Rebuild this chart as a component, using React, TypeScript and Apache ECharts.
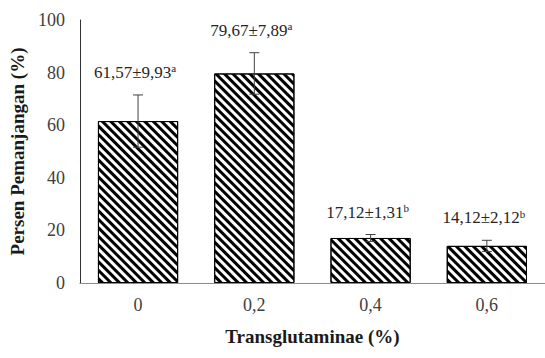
import React, { useEffect, useRef } from "react";
import * as echarts from "echarts";

const categories = ["0", "0,2", "0,4", "0,6"];
const means = [61.57, 79.67, 17.12, 14.12];
const errors = [9.93, 7.89, 1.31, 2.12];
const letters = ["a", "a", "b", "b"];
const yTicks = { min: 0, max: 100, interval: 20 };

const fmt = (v: number) => v.toFixed(2).replace(".", ",");

const FONT = "'Liberation Serif', 'Times New Roman', serif";

export default function App() {
  const ref = useRef<HTMLDivElement>(null);
  useEffect(() => {
    if (!ref.current) return;
    const chart = echarts.init(ref.current, null, { renderer: "svg" });
    const errData = means.map((m, i) => [i, m, errors[i], letters[i]]);
    chart.setOption({
      animation: false,
      backgroundColor: "#fff",
      textStyle: { fontFamily: FONT },
      grid: { left: 78, right: -5, top: 20, bottom: 75, containLabel: false },
      xAxis: {
        type: "category",
        data: categories,
        axisLine: { show: true, lineStyle: { color: "#8c8c8c", width: 1 } },
        axisTick: { show: false },
        axisLabel: { fontFamily: FONT, fontSize: 18, color: "#404040", margin: 13 },
        name: "Transglutaminae (%)",
        nameLocation: "middle",
        nameGap: 44,
        nameTextStyle: { fontFamily: FONT, fontSize: 19, fontWeight: "bold", color: "#1a1a1a" },
      },
      yAxis: {
        type: "value",
        min: yTicks.min,
        max: yTicks.max,
        interval: yTicks.interval,
        axisLine: { show: true, lineStyle: { color: "#333333", width: 1 } },
        axisTick: { show: false },
        splitLine: { show: false },
        axisLabel: { fontFamily: FONT, fontSize: 18, color: "#404040", margin: 15 },
        name: "Persen Pemanjangan (%)",
        nameLocation: "middle",
        nameGap: 48,
        nameTextStyle: { fontFamily: FONT, fontSize: 19, fontWeight: "bold", color: "#1a1a1a" },
      },
      series: [
        {
          type: "bar",
          data: means,
          barCategoryGap: "31%",
          itemStyle: {
            color: "#ffffff",
            borderColor: "#000000",
            borderWidth: 1,
            decal: {
              symbol: "rect",
              symbolSize: 1,
              color: "#000000",
              backgroundColor: "#ffffff",
              dashArrayX: [1, 0],
              dashArrayY: [3, 3],
              rotation: Math.PI / 4,
            },
          },
          z: 2,
        },
        {
          type: "custom",
          data: errData,
          z: 5,
          renderItem: (params: any, api: any) => {
            const i = api.value(0);
            const m = api.value(1);
            const e = api.value(2);
            const letter = errData[params.dataIndex][3] as string;
            const top = api.coord([i, m + e]);
            const bot = api.coord([i, m - e]);
            const x = top[0];
            const cap = 5;
            const stroke = { stroke: "#404040", lineWidth: 1 };
            return {
              type: "group",
              children: [
                { type: "line", shape: { x1: x, y1: top[1], x2: x, y2: bot[1] }, style: stroke },
                { type: "line", shape: { x1: x - cap, y1: top[1], x2: x + cap, y2: top[1] }, style: stroke },
                { type: "line", shape: { x1: x - cap, y1: bot[1], x2: x + cap, y2: bot[1] }, style: stroke },
                {
                  type: "text",
                  x: x - 3,
                  y: top[1] - 13,
                  style: {
                    text: `{m|${fmt(m)}±${fmt(e)}}{s|${letter}}`,
                    align: "center",
                    verticalAlign: "bottom",
                    fontFamily: FONT,
                    rich: {
                      m: { fontFamily: FONT, fontSize: 17, fill: "#262626", color: "#262626" },
                      s: {
                        fontFamily: FONT,
                        fontSize: 11,
                        fill: "#262626",
                        color: "#262626",
                        verticalAlign: "top",
                        padding: [0, 0, 8, 0],
                      },
                    },
                  },
                },
              ],
            };
          },
        },
      ],
    });
    return () => chart.dispose();
  }, []);
  return (
    <div
      ref={ref}
      style={{ position: "absolute", left: 0, top: 0, width: 545, height: 358 }}
    />
  );
}
